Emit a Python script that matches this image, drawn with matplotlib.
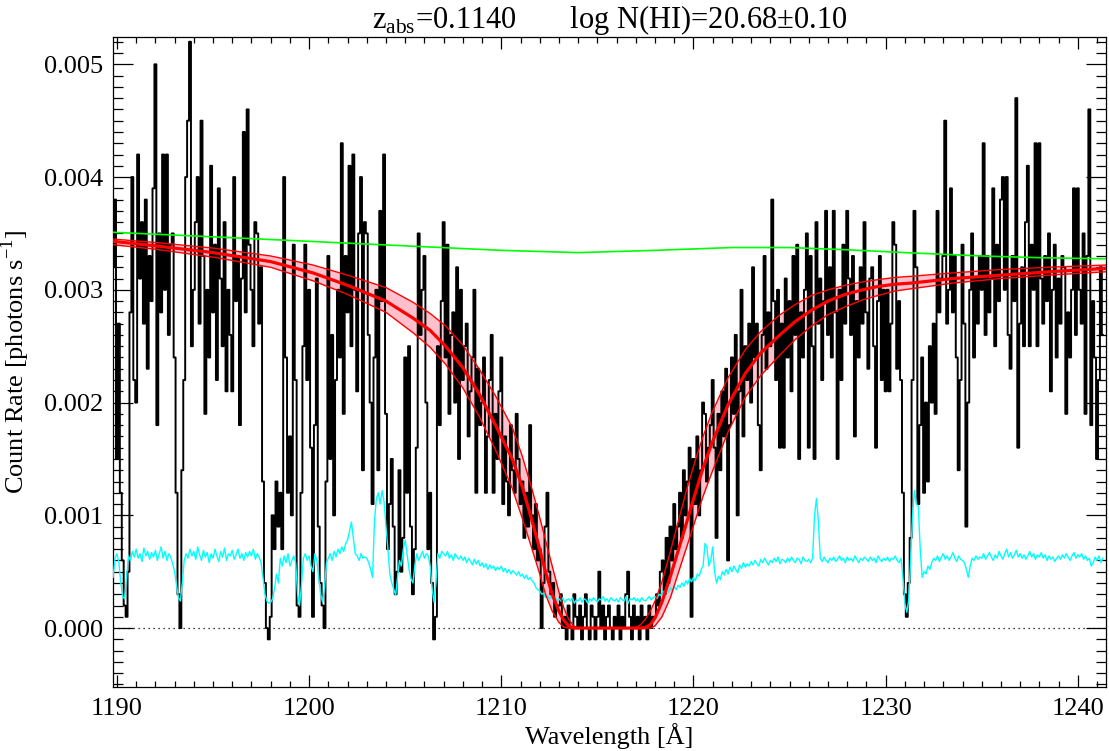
import numpy as np
import matplotlib
matplotlib.use("Agg")
import matplotlib.pyplot as plt
from matplotlib.ticker import MultipleLocator, FormatStrFormatter

plt.rcParams['font.family'] = ['Liberation Serif', 'DejaVu Serif']
plt.rcParams['mathtext.fontset'] = 'custom'
plt.rcParams['mathtext.rm'] = 'Liberation Serif'

# observed spectrum, 0.1 A bins starting at 1189.8 A, count rate in 1e-4 photons/s
wl_start, wl_step = 1189.8, 0.1
flux_e4 = [
    32, 38,
    15, 27, 12, 6, 2, 1, 5, 28, 40, 22,        # 1190
    20, 42, 31, 36, 27, 38, 23, 33, 29, 39,    # 1191
    50, 18, 35, 28, 42, 30, 42, 26, 34, 35,    # 1192
    24, 12, 3, 0, 14, 22, 40, 45, 52, 25,      # 1193
    30, 36, 40, 27, 45, 33, 19, 30, 24, 41,    # 1194
    28, 34, 22, 39, 31, 25, 36, 21, 30, 26,    # 1195
    21, 40, 29, 33, 18, 31, 44, 28, 46, 34,    # 1196
    30, 25, 36, 35, 27, 32, 13, 4, 0, -1,      # 1197
    1, 10, 7, 13, 9, 12, 7, 40, 24, 12,        # 1198
    17, 10, 34, 22, 2, 1, 12, 25, 34, 22,      # 1199
    30, 16, 1, 18, 31, 9, 4, 2, 0, 13,         # 1200
    33, 15, 26, 10, 22, 30, 24, 43, 19, 33,    # 1201
    28, 41, 25, 42, 30, 21, 35, 40, 14, 36,    # 1202
    35, 26, 20, 11, 24, 30, 14, 37, 29, 42,    # 1203
    19, 7, 11, 15, 9, 3, 5, 14, 5, 8,          # 1204
    24, 12, 25, 9, 3, 7, 16, 35, 26, 30,       # 1205
    33, 20, 7, 12, 4, -1, 1, 25, 18, 29,       # 1206
    36, 24, 34, 19, 26, 28, 20, 32, 15, 30,    # 1207
    22, 25, 27, 17, 21, 24, 30, 12, 23, 18,    # 1208
    20, 24, 12, 17, 22, 26, 12, 19, 15, 21,    # 1209
    24, 11, 17, 13, 10, 18, 14, 12, 19, 15,    # 1210
    11, 13, 8, 12, 9, 18, 10, 7, 11, 6,        # 1211
    7, 0, 4, 9, 12, 5, 3, 4, 1, 2,             # 1212
    2, 3, 0, 1, -1, 2, 0, -1, 3, 1,            # 1213
    0, 2, -1, 1, 3, 0, -1, 2, 1, -1,           # 1214
    1, 5, 0, 2, -1, 1, 2, 0, -1, 1,            # 1215
    0, 2, -1, 1, 0, 3, 5, 1, -1, 2,            # 1216
    0, 1, -1, 2, 0, 1, -1, 2, 0, 1,            # 1217
    1, 3, 2, 5, 6, 3, 8, 4, 9, 6,              # 1218
    11, 7, 9, 12, 8, 14, 10, 13, 16, 1,        # 1219
    15, 11, 17, 10, 14, 20, 19, 13, 16, 18,    # 1220
    22, 16, 8, 19, 14, 21, 17, 23, 6, 18,      # 1221
    24, 19, 26, 10, 21, 30, 17, 25, 22, 27,    # 1222
    20, 32, 24, 27, 18, 14, 26, 33, 23, 28,    # 1223
    25, 38, 29, 22, 30, 16, 27, 16, 31, 24,    # 1224
    29, 21, 33, 26, 34, 15, 28, 24, 30, 35,    # 1225
    16, 33, 25, 15, 36, 27, 31, 22, 29, 37,    # 1226
    26, 32, 24, 37, 28, 15, 30, 22, 34, 27,    # 1227
    37, 31, 26, 33, 17, 29, 24, 32, 27, 36,    # 1228
    28, 23, 31, 32, 25, 16, 29, 33, 22, 30,    # 1229
    21, 30, 21, 27, 36, 34, 23, 29, 22, 12,    # 1230
    3, 1, 4, 8, 22, 37, 32, 11, 18, 24,        # 1231
    12, 20, 13, 25, 20, 27, 19, 37, 28, 31,    # 1232
    33, 45, 27, 30, 39, 28, 33, 24, 14, 22,    # 1233
    34, 27, 9, 20, 30, 35, 24, 31, 27, 33,     # 1234
    30, 43, 26, 33, 28, 31, 39, 25, 34, 29,    # 1235
    38, 40, 30, 40, 26, 23, 33, 29, 47, 16,    # 1236
    27, 32, 25, 36, 41, 25, 34, 30, 43, 25,    # 1237
    43, 31, 27, 33, 29, 35, 21, 30, 34, 24,    # 1238
    31, 27, 33, 32, 19, 28, 24, 30, 39, 26,    # 1239
    39, 30, 27, 35, 19, 33, 46, 18, 29, 24,    # 1240
    15, 22, 32, 26,                            # 1241
]

# error spectrum on the same bins, in 1e-5 photons/s
err_e5 = [
    45, 62,
    66, 58, 40, 28, 26, 45, 64, 60, 68, 63,
    70, 62, 66, 59, 71, 64, 68, 61, 67, 63,
    69, 60, 66, 72, 62, 68, 60, 66, 63, 57,
    50, 38, 27, 24, 40, 60, 66, 62, 70, 64,
    68, 61, 72, 65, 60, 69, 63, 67, 58, 66,
    62, 70, 64, 59, 68, 63, 71, 60, 66, 64,
    69, 61, 65, 70, 62, 66, 60, 67, 63, 68,
    64, 70, 61, 66, 63, 58, 45, 30, 24, 22,
    23, 26, 35, 48, 40, 62, 55, 64, 58, 66,
    55, 60, 64, 58, 30, 20, 38, 62, 66, 60,
    64, 55, 50, 66, 60, 45, 30, 23, 35, 58,
    62, 66, 60, 68, 63, 70, 66, 72, 68, 75,
    78, 86, 94, 80, 66, 64, 60, 66, 62, 63,
    62, 58, 52, 45, 95, 115, 120, 110, 122, 112,
    90, 70, 48, 40, 35, 29, 45, 60, 55, 70,
    78, 65, 52, 44, 40, 55, 66, 60, 64, 68,
    62, 66, 64, 55, 35, 23, 40, 66, 62, 68,
    66, 64, 68, 62, 65, 60, 66, 63, 61, 64,
    60, 63, 58, 62, 59, 56, 61, 57, 60, 55,
    58, 54, 57, 52, 56, 53, 55, 51, 54, 52,
    55, 50, 53, 49, 52, 48, 51, 49, 47, 50,
    46, 48, 44, 47, 43, 45, 42, 40, 36, 34,
    33, 30, 31, 27, 29, 26, 28, 25, 27, 24,
    26, 24, 27, 23, 25, 26, 24, 27, 22, 25,
    24, 27, 23, 26, 25, 22, 26, 24, 27, 25,
    23, 26, 25, 28, 24, 26, 23, 27, 25, 24,
    26, 23, 27, 25, 24, 28, 22, 26, 25, 27,
    24, 26, 23, 27, 25, 24, 26, 28, 25, 27,
    28, 26, 30, 29, 33, 30, 34, 32, 36, 33,
    37, 34, 38, 36, 40, 37, 42, 39, 44, 41,
    45, 42, 48, 46, 52, 55, 75, 72, 55, 60,
    72, 50, 40, 46, 43, 50, 47, 52, 48, 54,
    50, 55, 52, 49, 56, 53, 58, 54, 57, 55,
    59, 56, 60, 57, 55, 61, 58, 62, 59, 56,
    60, 58, 62, 59, 63, 57, 61, 60, 58, 62,
    59, 63, 60, 58, 62, 61, 57, 63, 60, 59,
    61, 58, 62, 100, 115, 95, 62, 59, 63, 60,
    58, 62, 60, 63, 59, 61, 64, 60, 62, 58,
    63, 60, 62, 59, 64, 61, 58, 62, 60, 63,
    61, 59, 63, 60, 62, 58, 64, 61, 59, 62,
    60, 63, 59, 62, 61, 64, 60, 58, 62, 45,
    22, 14, 25, 60, 100, 122, 110, 108, 70, 45,
    50, 48, 55, 52, 58, 62, 60, 64, 59, 63,
    66, 61, 64, 60, 63, 67, 62, 59, 64, 61,
    60, 58, 52, 45, 55, 62, 60, 64, 61, 63,
    62, 66, 61, 64, 67, 63, 60, 65, 62, 68,
    64, 61, 66, 70, 63, 67, 62, 65, 69, 63,
    66, 62, 65, 61, 64, 68, 63, 66, 61, 65,
    63, 67, 62, 65, 60, 64, 61, 63, 59, 62,
    64, 61, 65, 62, 66, 63, 60, 64, 67, 62,
    65, 63, 66, 61, 64, 60, 62, 55, 58, 63,
    60, 64, 58, 62,
]

# unabsorbed continuum (green), 1e-4 photons/s
cont_wave = [1189.8, 1195, 1200, 1205, 1210, 1214, 1218, 1222, 1225, 1228, 1231, 1235, 1238, 1241.45]
cont_e4 = [35.1, 34.7, 34.3, 33.9, 33.5, 33.3, 33.5, 33.75, 33.75, 33.55, 33.3, 33.0, 32.85, 32.75]

# damped Lya fit: best model and the +/-1 sigma curves, 1e-4 photons/s
model_wave = [1189.8, 1192, 1195, 1198, 1200.2, 1202, 1204, 1205.4, 1206.3, 1207.1, 1208, 1208.84,
              1209.7, 1210.57, 1211.1, 1211.6, 1212.0, 1212.3, 1212.65, 1213.0, 1213.25, 1213.5,
              1213.75, 1214.0, 1215.5, 1217.0, 1217.25, 1217.5, 1217.75, 1218.0, 1218.36, 1218.8,
              1219.23, 1219.65, 1220.1, 1220.5, 1220.96, 1221.8, 1222.7, 1223.5, 1224.43, 1225.3,
              1226.15, 1227.0, 1227.9, 1228.8, 1229.6, 1230.5, 1231.35, 1233.5, 1236, 1238.5, 1241.45]
model_best = [34.3, 33.9, 33.3, 32.5, 31.5, 30.4, 29.0, 27.5, 26.4, 25.0, 23.1, 20.8,
              18.0, 15.0, 12.5, 9.5, 7.0, 5.0, 3.0, 1.5, 0.7, 0.2,
              0.0, 0.0, 0.0, 0.0, 0.0, 0.05, 0.3, 0.9, 2.3, 4.6,
              7.0, 9.4, 12.0, 14.2, 16.4, 19.8, 22.6, 24.4, 25.9, 27.2,
              28.2, 29.0, 29.6, 30.0, 30.3, 30.5, 30.6, 31.0, 31.3, 31.6, 31.9]
model_hi = [34.5, 34.2, 33.7, 33.0, 32.2, 31.3, 30.2, 28.9, 27.9, 26.8, 25.1, 23.0,
            20.6, 17.8, 15.2, 12.3, 9.8, 7.8, 5.5, 3.2, 1.8, 0.8,
            0.2, 0.0, 0.0, 0.05, 0.3, 0.8, 1.5, 2.4, 4.1, 6.8,
            9.6, 12.3, 14.9, 17.0, 19.1, 22.2, 24.7, 26.3, 27.7, 28.7,
            29.5, 30.0, 30.4, 30.7, 30.9, 31.1, 31.2, 31.5, 31.8, 32.0, 32.2]
model_lo = [34.0, 33.6, 32.9, 32.0, 30.8, 29.6, 28.0, 26.2, 24.9, 23.4, 21.3, 18.8,
            15.8, 12.4, 9.7, 7.0, 4.8, 3.0, 1.5, 0.5, 0.1, 0.0,
            0.0, 0.0, 0.0, 0.0, 0.0, 0.0, 0.0, 0.2, 1.0, 2.7,
            5.0, 7.2, 9.6, 11.7, 13.8, 17.4, 20.5, 22.4, 24.1, 25.6,
            26.8, 27.8, 28.5, 29.1, 29.5, 29.9, 30.1, 30.6, 31.0, 31.3, 31.6]

wave = wl_start + wl_step * np.arange(len(flux_e4))
flux = np.array(flux_e4) * 1e-4
err = np.array(err_e5) * 1e-5
mw = np.array(model_wave)
mbest, mhi, mlo = (np.array(a) * 1e-4 for a in (model_best, model_hi, model_lo))

fig = plt.figure(figsize=(11.09, 7.51), dpi=100)
ax = fig.add_axes([0.102, 0.085, 0.895, 0.866])

ax.fill_between(mw, mlo, mhi, color="#ffc0cb", lw=0, zorder=1)
ax.plot(wave, flux, drawstyle="steps-mid", color="k", lw=1.4, zorder=2)
ax.plot(wave, err, color="#00ffff", lw=1.0, zorder=3)
ax.plot(cont_wave, np.array(cont_e4) * 1e-4, color="#00ff00", lw=1.2, zorder=4)
ax.plot(mw, mhi, color="red", lw=1.0, zorder=5)
ax.plot(mw, mlo, color="red", lw=1.0, zorder=5)
ax.plot(mw, mbest, color="red", lw=2.3, zorder=6)
ax.axhline(0.0, color="k", ls=(0, (1, 3)), lw=0.9, zorder=2)

ax.set_xlim(1189.8, 1241.45)
ax.set_ylim(-0.000524, 0.005244)
ax.xaxis.set_major_locator(MultipleLocator(10))
ax.xaxis.set_minor_locator(MultipleLocator(1))
ax.yaxis.set_major_locator(MultipleLocator(0.001))
ax.yaxis.set_minor_locator(MultipleLocator(0.0001))
ax.yaxis.set_major_formatter(FormatStrFormatter("%.3f"))
ax.tick_params(which="both", direction="in", top=True, right=True, labelsize=19, width=0.9)
ax.tick_params(axis="x", which="major", length=8.6, pad=8)
ax.tick_params(axis="x", which="minor", length=4.3)
ax.tick_params(axis="y", which="major", length=14.4, pad=7)
ax.tick_params(axis="y", which="minor", length=7.2)
for sp in ax.spines.values():
    sp.set_linewidth(0.9)

ax.set_xlabel("Wavelength [Å]", fontsize=19, labelpad=2)
ax.set_ylabel("Count Rate [photons s$^{-1}$]", fontsize=19, labelpad=9)
ax.set_title("z$_{\\mathrm{abs}}$=0.1140       log N(HI)=20.68±0.10", fontsize=22, pad=5)

fig.savefig("out.png", dpi=100)
